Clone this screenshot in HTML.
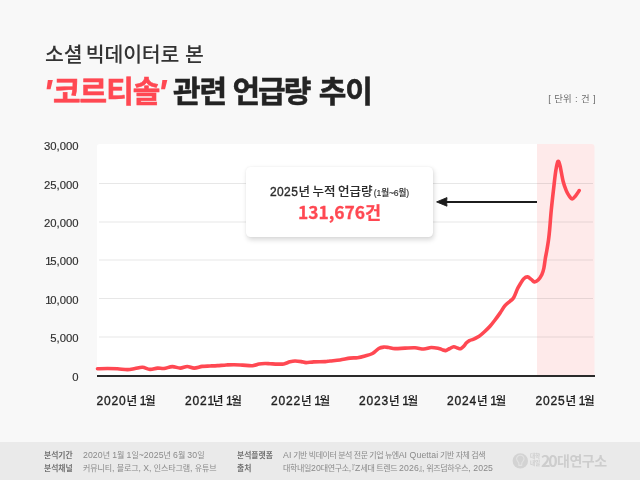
<!DOCTYPE html>
<html lang="ko"><head><meta charset="utf-8">
<style>
*{margin:0;padding:0;box-sizing:border-box}
html,body{width:640px;height:480px;overflow:hidden}
body{background:#f8f8f8;position:relative;font-family:"Liberation Sans","Noto Sans CJK KR",sans-serif;color:#222}
.abs{position:absolute;white-space:nowrap}
.t1{left:45px;top:38px;font-family:"Noto Sans CJK KR",sans-serif;font-size:20.5px;font-weight:500;color:#333;line-height:30px;word-spacing:-2.3px;letter-spacing:-0.15px}
.t2{top:68.5px;font-family:"Noto Sans CJK KR",sans-serif;font-size:30px;font-weight:700;color:#232323;line-height:40px;letter-spacing:-1px;-webkit-text-stroke:0.55px currentColor}
.r{color:#ff4852}
.q{font-family:"Liberation Sans",sans-serif;font-style:italic;font-weight:700;color:#ff4852;font-size:37px;line-height:40px}
.unit{left:548.3px;top:92.3px;font-family:"Liberation Sans","Noto Sans CJK KR",sans-serif;font-size:9.4px;color:#6c6c6c;line-height:14px;word-spacing:0.8px}
.yl{right:561.5px;font-size:11.3px;color:#2e2e2e;line-height:12px;text-align:right;-webkit-text-stroke:0.15px #2e2e2e}
.xl{font-family:"Liberation Sans","Noto Sans CJK KR",sans-serif;font-size:12px;color:#1e1e1e;line-height:16px;letter-spacing:0.8px;word-spacing:-1.5px;-webkit-text-stroke:0.35px #1e1e1e}
.xl .o{font-weight:400;letter-spacing:-1.4px}
.xl span{font-family:"Noto Sans CJK KR",sans-serif;font-size:11.6px;font-weight:500;letter-spacing:0;-webkit-text-stroke:0.1px #1e1e1e}
.foot{left:0;top:442px;width:640px;height:38px;background:#eaeaea}
.fk{font-family:"Noto Sans CJK KR",sans-serif;font-size:7.8px;font-weight:700;color:#727272;line-height:10px}
.fv{font-family:"Noto Sans CJK KR",sans-serif;font-size:8px;color:#8a8a8a;line-height:10px;letter-spacing:-0.1px}
.fv i{font-style:normal;font-family:"Liberation Sans",sans-serif;font-size:8.7px;letter-spacing:0.1px}
.bl{margin-left:-4px}.br{margin-right:-4.5px}
.box{left:246px;top:167px;width:187px;height:70px;background:#fff;border-radius:4.5px;box-shadow:1px 2.5px 5px rgba(0,0,0,0.15),0 0 2px rgba(0,0,0,0.06)}
.b1{left:0;width:187px;top:16px;text-align:center;font-family:"Liberation Sans","Noto Sans CJK KR",sans-serif;font-size:12px;color:#2a2a2a;line-height:16px;letter-spacing:0.45px;word-spacing:-1px;-webkit-text-stroke:0.35px #2a2a2a}
.b1 span{font-family:"Noto Sans CJK KR",sans-serif;font-size:12.5px;font-weight:500;letter-spacing:0;-webkit-text-stroke:0.1px #2a2a2a}
.b1 small{font-family:"Liberation Sans","Noto Sans CJK KR",sans-serif;font-size:8.6px;font-weight:500;letter-spacing:-0.1px;-webkit-text-stroke:0.15px #333;color:#333;margin-left:-1.5px}
.b2{left:0;width:187px;top:32px;text-align:center;font-family:"Noto Sans CJK KR",sans-serif;font-size:17.4px;font-weight:700;letter-spacing:0px;-webkit-text-stroke:0.3px #ff4852;color:#ff4852;line-height:26px}
.lg1{left:530px;top:453px;font-family:"Noto Sans CJK KR",sans-serif;font-size:5.6px;line-height:6.6px;color:#cdcdcd;font-weight:700;letter-spacing:-0.2px}
.lg2{left:541px;top:449.5px;font-family:"Noto Sans CJK KR",sans-serif;font-size:16px;line-height:20px;color:#cdcdcd;font-weight:700;letter-spacing:-2.2px}
.lg3{left:557px;top:450px;font-family:"Noto Sans CJK KR",sans-serif;font-size:14px;line-height:20px;color:#cdcdcd;font-weight:700;letter-spacing:-0.5px}
.o1{font-weight:400;letter-spacing:-1.3px}
</style></head><body>
<div class="abs t1">소셜 빅데이터로 <span style="margin-left:2.5px">본</span></div>
<div class="abs q" style="left:43px;top:74px">'</div>
<div class="abs t2 r" style="left:53px">코르티솔</div>
<div class="abs q" style="left:157.5px;top:74px">'</div>
<div class="abs t2" style="left:173px">관련</div>
<div class="abs t2" style="left:232.5px;letter-spacing:-2px">언급량</div>
<div class="abs t2" style="left:318.7px">추이</div>
<div class="abs unit">[ 단위 : 건 ]</div>

<svg class="abs" style="left:0;top:0" width="640" height="480" viewBox="0 0 640 480">
<path d="M99.5 144 H537 V376 H97 V146.5 A2.5 2.5 0 0 1 99.5 144Z" fill="#fff"/>
<path d="M537 144 H591.5 A3 3 0 0 1 594.5 147 V376 H537Z" fill="#feeaea"/>
<g stroke="rgba(0,0,0,0.095)" stroke-width="1">
<line x1="99" y1="183.5" x2="593" y2="183.5"/>
<line x1="99" y1="222" x2="593" y2="222"/>
<line x1="99" y1="260" x2="593" y2="260"/>
<line x1="99" y1="298.5" x2="593" y2="298.5"/>
<line x1="99" y1="337" x2="593" y2="337"/>
</g>
<rect x="97" y="375" width="498" height="2" fill="#2a2a2a"/>
<path d="M97.50 368.75 C99.17 368.71 104.17 368.50 107.50 368.50 C110.83 368.50 114.17 368.57 117.50 368.75 C120.83 368.93 124.58 369.64 127.50 369.60 C130.42 369.56 132.50 368.89 135.00 368.50 C137.50 368.11 140.00 367.10 142.50 367.25 C145.00 367.40 147.50 369.26 150.00 369.40 C152.50 369.54 155.17 368.25 157.50 368.10 C159.83 367.95 161.53 368.75 164.00 368.50 C166.47 368.25 169.60 366.67 172.30 366.60 C175.00 366.53 177.72 368.12 180.20 368.10 C182.68 368.08 184.87 366.50 187.20 366.50 C189.53 366.50 191.70 368.12 194.20 368.10 C196.70 368.08 199.57 366.75 202.20 366.40 C204.83 366.05 207.45 366.13 210.00 366.00 C212.55 365.87 214.79 365.77 217.50 365.60 C220.21 365.43 223.50 365.15 226.25 365.00 C229.00 364.85 231.29 364.68 234.00 364.70 C236.71 364.72 239.42 364.93 242.50 365.10 C245.58 365.27 249.75 365.88 252.50 365.70 C255.25 365.52 256.92 364.37 259.00 364.00 C261.08 363.63 263.17 363.55 265.00 363.50 C266.83 363.45 267.92 363.60 270.00 363.70 C272.08 363.80 275.21 364.07 277.50 364.10 C279.79 364.13 281.67 364.28 283.75 363.90 C285.83 363.52 288.12 362.28 290.00 361.80 C291.88 361.32 293.12 361.03 295.00 361.00 C296.88 360.97 299.42 361.33 301.25 361.60 C303.08 361.87 303.92 362.55 306.00 362.60 C308.08 362.65 310.58 362.07 313.75 361.90 C316.92 361.73 322.29 361.75 325.00 361.60 C327.71 361.45 327.50 361.27 330.00 361.00 C332.50 360.73 336.67 360.48 340.00 360.00 C343.33 359.52 347.08 358.48 350.00 358.10 C352.92 357.73 355.00 358.10 357.50 357.75 C360.00 357.40 362.50 356.71 365.00 356.00 C367.50 355.29 370.21 354.75 372.50 353.50 C374.79 352.25 376.88 349.57 378.75 348.50 C380.62 347.43 382.08 347.27 383.75 347.10 C385.42 346.93 386.88 347.25 388.75 347.50 C390.62 347.75 392.29 348.50 395.00 348.60 C397.71 348.70 401.67 348.24 405.00 348.10 C408.33 347.96 411.88 347.60 415.00 347.75 C418.12 347.90 421.04 349.04 423.75 349.00 C426.46 348.96 428.75 347.58 431.25 347.50 C433.75 347.42 436.96 348.15 438.75 348.50 C440.54 348.85 440.86 349.25 442.00 349.60 C443.14 349.95 444.37 350.74 445.60 350.60 C446.83 350.46 448.04 349.39 449.40 348.75 C450.76 348.11 452.40 346.86 453.75 346.75 C455.10 346.64 456.36 347.77 457.50 348.10 C458.64 348.43 459.56 349.06 460.60 348.75 C461.64 348.44 462.81 347.19 463.75 346.25 C464.69 345.31 465.31 344.04 466.25 343.10 C467.19 342.16 468.26 341.22 469.40 340.60 C470.54 339.98 471.96 339.87 473.10 339.40 C474.24 338.93 475.10 338.43 476.25 337.80 C477.40 337.17 478.54 336.69 480.00 335.60 C481.46 334.51 483.33 332.81 485.00 331.25 C486.67 329.69 488.33 328.12 490.00 326.25 C491.67 324.38 493.33 322.19 495.00 320.00 C496.67 317.81 498.33 315.50 500.00 313.10 C501.67 310.70 503.33 307.58 505.00 305.60 C506.67 303.62 508.54 302.60 510.00 301.25 C511.46 299.90 512.50 299.58 513.75 297.50 C515.00 295.42 516.38 291.08 517.50 288.75 C518.62 286.42 519.46 285.17 520.50 283.50 C521.54 281.83 522.58 279.85 523.75 278.75 C524.92 277.65 526.25 276.79 527.50 276.90 C528.75 277.01 530.10 278.57 531.25 279.40 C532.40 280.23 533.26 281.80 534.40 281.90 C535.54 282.00 536.85 281.23 538.10 280.00 C539.35 278.77 540.93 276.50 541.90 274.50 C542.87 272.50 543.32 270.75 543.90 268.00 C544.48 265.25 544.90 261.00 545.40 258.00 C545.90 255.00 546.38 253.00 546.90 250.00 C547.42 247.00 548.05 243.33 548.50 240.00 C548.95 236.67 549.14 234.93 549.60 230.00 C550.06 225.07 550.56 217.48 551.25 210.40 C551.94 203.32 552.99 194.10 553.75 187.50 C554.51 180.90 555.11 175.13 555.80 170.80 C556.49 166.47 557.20 162.37 557.90 161.50 C558.60 160.63 559.13 162.31 560.00 165.60 C560.87 168.89 562.06 177.08 563.10 181.25 C564.14 185.42 565.20 188.10 566.25 190.60 C567.30 193.10 568.42 194.85 569.40 196.25 C570.38 197.65 571.07 199.07 572.10 199.00 C573.13 198.93 574.42 197.20 575.60 195.80 C576.78 194.40 578.60 191.47 579.20 190.60" fill="none" stroke="#ff4852" stroke-width="3.6" stroke-linecap="round" stroke-linejoin="round"/>
<line x1="445" y1="201.9" x2="537" y2="201.9" stroke="#1c1c1c" stroke-width="2"/>
<path d="M436.6 201.9 L447 197.6 Q446.2 201.9 447 206.2 Z" fill="#1c1c1c" stroke="#1c1c1c" stroke-width="0.9" stroke-linejoin="round"/>
</svg>

<div class="abs yl" style="top:140px">30,000</div>
<div class="abs yl" style="top:178.5px">25,000</div>
<div class="abs yl" style="top:217px">20,000</div>
<div class="abs yl" style="top:255px"><b class="o1">1</b>5,000</div>
<div class="abs yl" style="top:293.5px"><b class="o1">1</b>0,000</div>
<div class="abs yl" style="top:332px">5,000</div>
<div class="abs yl" style="top:370.5px">0</div>

<div class="abs xl" style="left:96.5px;top:392px">2020<span>년</span> <b class="o">1</b><span>월</span></div>
<div class="abs xl" style="left:185px;top:392px">202<b class="o">1</b><span>년</span> <b class="o">1</b><span>월</span></div>
<div class="abs xl" style="left:271px;top:392px">2022<span>년</span> <b class="o">1</b><span>월</span></div>
<div class="abs xl" style="left:359px;top:392px">2023<span>년</span> <b class="o">1</b><span>월</span></div>
<div class="abs xl" style="left:447px;top:392px">2024<span>년</span> <b class="o">1</b><span>월</span></div>
<div class="abs xl" style="left:535.5px;top:392px">2025<span>년</span> <b class="o">1</b><span>월</span></div>

<div class="abs box">
<div class="abs b1">2025<span>년 누적 언급량</span> <small>(1월~6월)</small></div>
<div class="abs b2">131,676건</div>
</div>

<div class="abs foot"></div>
<div class="abs fk" style="left:44px;top:450px">분석기간</div>
<div class="abs fv" style="left:83px;top:450px"><i>2020</i>년 <i>1</i>월 <i>1</i>일<i>~2025</i>년 <i>6</i>월 <i>30</i>일</div>
<div class="abs fk" style="left:44px;top:463px">분석채널</div>
<div class="abs fv" style="left:83px;top:463px">커뮤니티<i>,</i> 블로그<i>,</i> <i>X,</i> 인스타그램<i>,</i> 유튜브</div>
<div class="abs fk" style="left:237px;top:450px">분석플랫폼</div>
<div class="abs fv" style="left:283px;top:450px;letter-spacing:-0.46px"><i>AI</i> 기반 빅데이터 분석 전문 기업 뉴엔<i>AI Quettai</i> 기반 자체 검색</div>
<div class="abs fk" style="left:237px;top:463px">출처</div>
<div class="abs fv" style="left:283px;top:463px;letter-spacing:-0.37px">대학내일<i>20</i>대연구소<i>,</i><span class="bl">『</span><i>Z</i>세대 트렌드 <i>2026</i><span class="br">』</span><i>,</i> 위즈덤하우스<i>, 2025</i></div>

<svg class="abs" style="left:510px;top:450px" width="22" height="22" viewBox="0 0 22 22">
<circle cx="10.3" cy="10.9" r="7.7" fill="#d3d3d3"/>
<path d="M10.3 5.2 C8 5.2 6.6 6.9 6.6 8.8 C6.6 10.6 8 11.6 8.8 13 L8.9 15.4 L11.7 15.4 L11.8 13 C12.6 11.6 14 10.6 14 8.8 C14 6.9 12.6 5.2 10.3 5.2Z" fill="none" stroke="#e2e2e2" stroke-width="1.1"/>
</svg>
<div class="abs lg1">대학<br>내일</div>
<div class="abs lg2">20</div>
<div class="abs lg3">대연구소</div>
</body></html>
